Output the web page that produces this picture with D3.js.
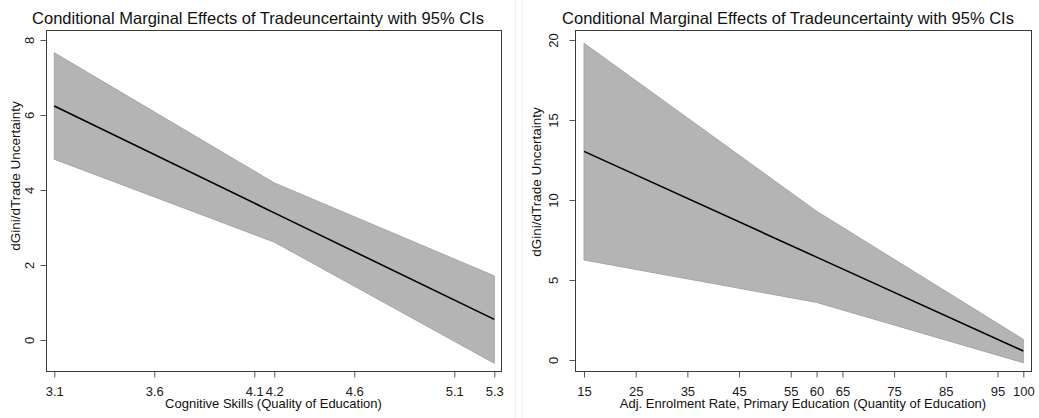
<!DOCTYPE html>
<html>
<head>
<meta charset="utf-8">
<script src="https://cdn.jsdelivr.net/npm/d3@7"></script>
<style>
html,body{margin:0;padding:0;background:#fff;}
svg{display:block;font-family:"Liberation Sans",Arial,sans-serif;}
</style>
</head>
<body>
<svg id="chart" width="1039" height="418"></svg>
<script>
// ---- data ----
const titleText = "Conditional Marginal Effects of Tradeuncertainty with 95% CIs";
const yTitle = "dGini/dTrade Uncertainty";

const leftX     = [3.1, 4.2, 5.3];
const leftEst   = [6.24, 3.39, 0.55];
const leftUpper = [7.66, 4.19, 1.71];
const leftLower = [4.82, 2.61, -0.62];
const leftXTicks = [3.1, 3.6, 4.1, 4.2, 4.6, 5.1, 5.3];
const leftYTicks = [0, 2, 4, 6, 8];
const leftXTitle = "Cognitive Skills (Quality of Education)";

const rightX     = [15, 60, 100];
const rightEst   = [13.04, 6.43, 0.56];
const rightUpper = [19.8, 9.3, 1.29];
const rightLower = [6.25, 3.6, -0.17];
const rightXTicks = [15, 25, 35, 45, 55, 60, 65, 75, 85, 95, 100];
const rightYTicks = [0, 5, 10, 15, 20];
const rightXTitle = "Adj. Enrolment Rate, Primary Education (Quantity of Education)";

const svg = d3.select("#chart");

// faint separators of the two graph images
svg.append("line").attr("x1",515.5).attr("x2",515.5).attr("y1",0).attr("y2",418).attr("stroke","#eeeeee");
svg.append("line").attr("x1",522.5).attr("x2",522.5).attr("y1",0).attr("y2",418).attr("stroke","#f2f2f2");

function panel(cfg){
  const g = svg.append("g");
  const x = d3.scaleLinear().domain(cfg.xDom).range(cfg.xRange);
  const y = d3.scaleLinear().domain(cfg.yDom).range(cfg.yRange);
  const pts = cfg.xs.map((v,i)=>({x:v, est:cfg.est[i], hi:cfg.hi[i], lo:cfg.lo[i]}));

  // band
  const area = d3.area().x(d=>x(d.x)).y0(d=>y(d.lo)).y1(d=>y(d.hi));
  g.append("path").datum(pts).attr("d", area)
    .attr("fill","#b4b4b4").attr("stroke","#a6a6a6").attr("stroke-width",1);
  // estimate line
  const line = d3.line().x(d=>x(d.x)).y(d=>y(d.est));
  g.append("path").datum(pts).attr("d", line)
    .attr("fill","none").attr("stroke","#000").attr("stroke-width",1.6);

  // frame
  const b = cfg.box;
  g.append("rect").attr("x",b.l+0.5).attr("y",b.t+0.5).attr("width",b.r-b.l).attr("height",b.b-b.t)
    .attr("fill","none").attr("stroke","#3a3a3a").attr("stroke-width",1);

  // x axis
  const xAxis = d3.axisBottom(x).tickValues(cfg.xTicks).tickSize(6).tickPadding(9)
    .tickFormat(d=>String(d));
  const xa = g.append("g").attr("transform",`translate(0,${b.b+0.5})`).call(xAxis);
  xa.select(".domain").remove();
  xa.selectAll(".tick line").attr("stroke","#555");
  xa.selectAll(".tick text").attr("font-size",13).attr("fill","#1a1a1a")
    .attr("font-family",'"Liberation Sans",Arial,sans-serif');

  // y axis
  const yAxis = d3.axisLeft(y).tickValues(cfg.yTicks).tickSize(6).tickPadding(0)
    .tickFormat(d=>String(d));
  const ya = g.append("g").attr("transform",`translate(${b.l+0.5},0)`).call(yAxis);
  ya.select(".domain").remove();
  ya.selectAll(".tick line").attr("stroke","#555");
  ya.selectAll(".tick text").attr("font-size",13).attr("fill","#1a1a1a")
    .attr("font-family",'"Liberation Sans",Arial,sans-serif')
    .attr("x",null).attr("dy",null)
    .attr("text-anchor","middle")
    .attr("transform",`translate(${-(b.l - cfg.yLabelX)},0) rotate(-90)`);

  // titles
  g.append("text").attr("x",cfg.titleX).attr("y",24).attr("text-anchor","middle")
    .attr("font-size",16.5).attr("fill","#111").text(titleText);
  g.append("text").attr("x",(b.l+b.r)/2).attr("y",408).attr("text-anchor","middle")
    .attr("font-size",13).attr("fill","#111").text(cfg.xTitle);
  g.append("text").attr("transform",`translate(${cfg.yTitleX},${cfg.yTitleY}) rotate(-90)`)
    .attr("text-anchor","middle").attr("font-size",13.5).attr("fill","#111").text(yTitle);
}

panel({
  xs:leftX, est:leftEst, hi:leftUpper, lo:leftLower,
  xDom:[3.1,5.3], xRange:[54.3,494.3],
  yDom:[0,8], yRange:[340,40],
  box:{l:46,r:501,t:30,b:371},
  xTicks:leftXTicks, yTicks:leftYTicks,
  yLabelX:33, yTitleX:20, yTitleY:176, titleX:258,
  xTitle:leftXTitle
});

panel({
  xs:rightX, est:rightEst, hi:rightUpper, lo:rightLower,
  xDom:[15,100], xRange:[584,1023.3],
  yDom:[0,20], yRange:[360,40],
  box:{l:575,r:1031,t:30,b:371},
  xTicks:rightXTicks, yTicks:rightYTicks,
  yLabelX:557, yTitleX:541, yTitleY:182, titleX:788,
  xTitle:rightXTitle
});
</script>
</body>
</html>
